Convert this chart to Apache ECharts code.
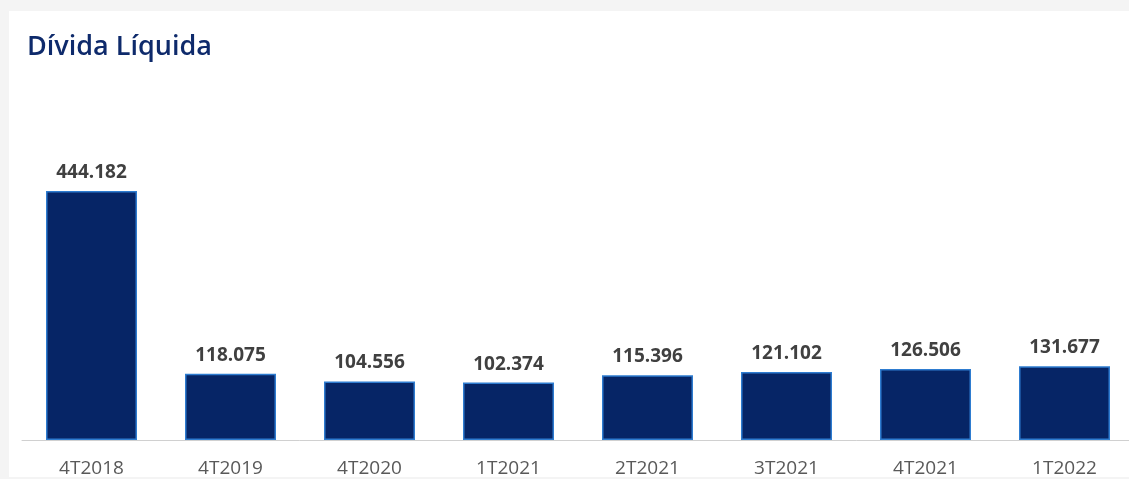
<!DOCTYPE html>
<html><head><meta charset="utf-8">
<script src="https://cdn.jsdelivr.net/npm/echarts@6/dist/echarts.min.js"></script>
<style>html,body{margin:0;padding:0;background:#f4f4f4;overflow:hidden;}#c{width:1140px;height:479px;}</style>
</head><body><div id="c"></div>
<script>
const categories = ['4T2018','4T2019','4T2020','1T2021','2T2021','3T2021','4T2021','1T2022'];
const values = [444.182, 118.075, 104.556, 102.374, 115.396, 121.102, 126.506, 131.677];
const title = 'Dívida Líquida';

const chart = echarts.init(document.getElementById('c'), null, {renderer:'canvas'});
chart.setOption({
  animation:false,
  graphic:[{type:'rect', z:-10, shape:{x:9,y:11,width:1135,height:466}, style:{fill:'#ffffff'}}],
  title:{text:title, left:22, top:29, textStyle:{fontFamily:'Open Sans', fontWeight:600, fontSize:27, color:'#0e2a6b'}},
  grid:{left:22, right:6, top:100, bottom:39},
  xAxis:{type:'category', data:categories,
    axisLine:{lineStyle:{color:'#d0d0d0', width:1}}, axisTick:{show:false},
    axisLabel:{fontFamily:'Open Sans', fontSize:19, color:'#595959', margin:19}},
  yAxis:{type:'value', min:0, max:606.5, show:false, splitLine:{show:false}},
  series:[{type:'bar', data:values, barWidth:91,
    itemStyle:{color:'#062566', borderColor:'#2e7cd0', borderWidth:1.5},
    label:{show:true, position:'top', distance:9, fontFamily:'Open Sans', fontWeight:'bold', fontSize:19, color:'#404040',
      formatter:p=>p.value.toFixed(3)}}]
});
</script></body></html>
